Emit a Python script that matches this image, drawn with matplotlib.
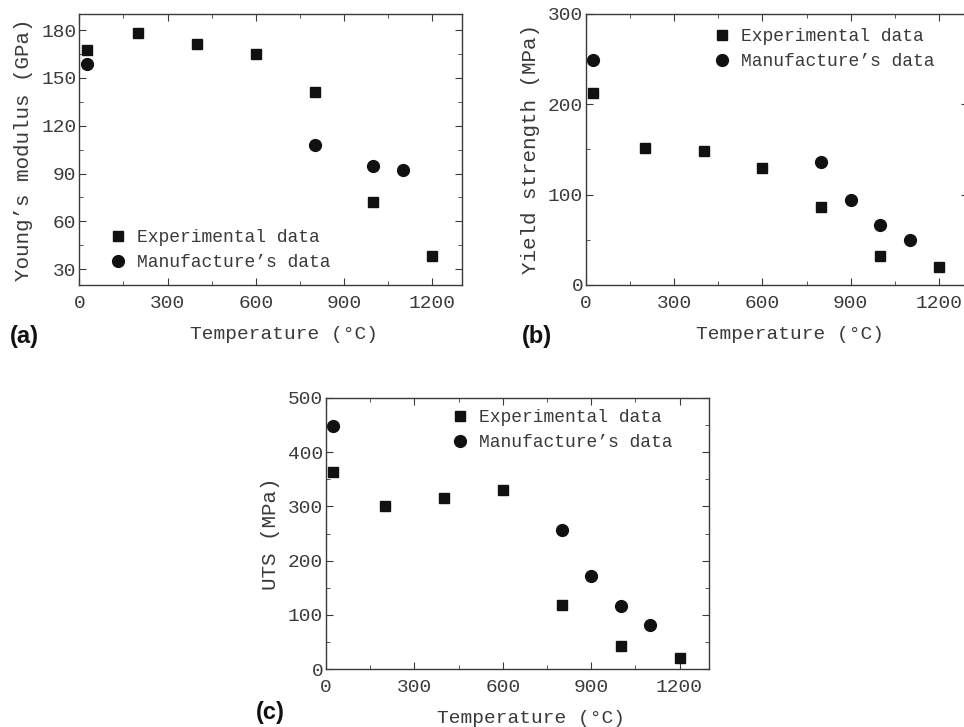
import matplotlib.pyplot as plt
from matplotlib.ticker import MultipleLocator

plt.rcParams['font.family'] = ['Liberation Mono', 'DejaVu Sans Mono']

# Temperatures (°C)
exp_temp = [25, 200, 400, 600, 800, 1000, 1200]
man_temp_a = [25, 800, 1000, 1100]
man_temp_bc = [25, 800, 900, 1000, 1100]

# (a) Young's modulus (GPa)
exp_modulus = [167.5, 178.5, 171.5, 165, 141, 72, 38]
man_modulus = [158.5, 108, 95, 92.5]

# (b) Yield strength (MPa)
exp_yield = [213, 152, 148, 130, 86, 32, 20]
man_yield = [249, 136, 94, 66, 50]

# (c) UTS (MPa)
exp_uts = [364, 300, 316, 331, 118, 43, 21]
man_uts = [449, 256, 172, 117, 82]

W, H = 964, 727
fig = plt.figure(figsize=(W / 100, H / 100), dpi=100)

def box(l, r, t, b):
    return [l / W, (H - b) / H, (r - l) / W, (b - t) / H]

gray = '#3a3a3a'

def style(ax, ylim, ymaj, ymin, ylabel):
    ax.set_xlim(0, 1300)
    ax.set_ylim(*ylim)
    ax.xaxis.set_major_locator(MultipleLocator(300))
    ax.xaxis.set_minor_locator(MultipleLocator(150))
    ax.yaxis.set_major_locator(MultipleLocator(ymaj))
    ax.yaxis.set_minor_locator(MultipleLocator(ymin))
    ax.tick_params(which='both', direction='in', top=True, right=True,
                   colors=gray, labelsize=14, labelcolor=gray)
    ax.tick_params(which='major', length=5, pad=7)
    ax.tick_params(axis='y', which='major', pad=2)
    ax.tick_params(which='minor', length=3)
    for s in ax.spines.values():
        s.set_color(gray)
        s.set_linewidth(1)
    ax.set_xlabel('Temperature (°C)', fontsize=14, color=gray)
    ax.xaxis.set_label_coords(0.5 + 13 / 382, -0.153)
    ax.set_ylabel(ylabel, fontsize=15, color=gray, labelpad=6)

def draw(ax, ex, ey, mx, my, anchor):
    ax.plot(ex, ey, 's', color='#111111', markersize=7.5, label='Experimental data')
    ax.plot(mx, my, 'o', color='#111111', markersize=8.5, label="Manufacture’s data")
    ax.legend(loc='upper left', bbox_to_anchor=anchor, frameon=False,
              borderpad=0, handlelength=1, handletextpad=0.55,
              labelspacing=0.45, prop={'size': 13}, labelcolor=gray,
              borderaxespad=0)

ax1 = fig.add_axes(box(79.3, 461.7, 14.3, 285))
draw(ax1, exp_temp, exp_modulus, man_temp_a, man_modulus, (0.078, 0.207))
style(ax1, (20, 190), 30, 15, 'Young’s modulus (GPa)')

ax2 = fig.add_axes(box(586, 968.4, 14, 285))
draw(ax2, exp_temp, exp_yield, man_temp_bc, man_yield, (0.332, 0.949))
style(ax2, (0, 300), 100, 50, 'Yield strength (MPa)')

ax3 = fig.add_axes(box(326, 709, 398, 669))
draw(ax3, exp_temp, exp_uts, man_temp_bc, man_uts, (0.326, 0.959))
style(ax3, (0, 500), 100, 50, 'UTS (MPa)')

for lab, x, y in [('(a)', 10, 337), ('(b)', 522, 337), ('(c)', 256, 713)]:
    fig.text(x / W, (H - y) / H, lab, fontsize=17, fontweight='bold',
             family='Liberation Sans', va='center', ha='left', color='#111111')

fig.savefig('out.png', dpi=100)
